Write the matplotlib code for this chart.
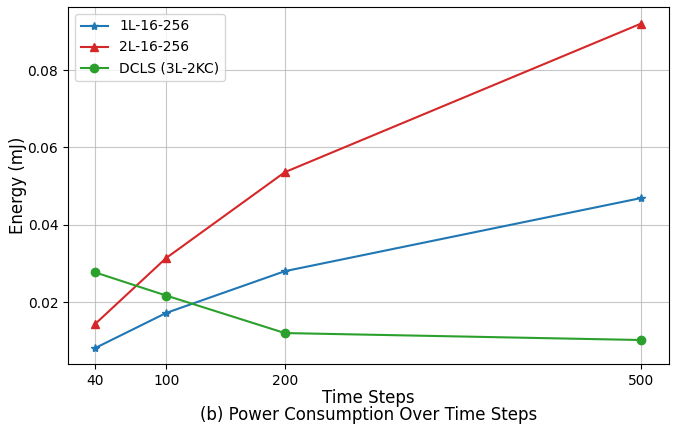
import matplotlib
matplotlib.use('Agg')
import matplotlib.pyplot as plt

# time steps on x
time_steps = [40, 100, 200, 500]

# energy (mJ) per model
energy_1l = [0.0081, 0.0172, 0.0280, 0.0469]
energy_2l = [0.0143, 0.0314, 0.0536, 0.0920]
energy_dcls = [0.0277, 0.0217, 0.0120, 0.0102]

labels = ['1L-16-256', '2L-16-256', 'DCLS (3L-2KC)']

fig = plt.figure(figsize=(6.79, 4.26), dpi=100)
ax = fig.add_axes([68 / 679, 1 - 364 / 426, 601 / 679, 357 / 426])

ax.plot(time_steps, energy_1l, marker='*', color='#1f77b4', label=labels[0])
ax.plot(time_steps, energy_2l, marker='^', color='#d62728', label=labels[1])
ax.plot(time_steps, energy_dcls, marker='o', color='#2ca02c', label=labels[2])

ax.set_xticks(time_steps)
ax.set_xlim(17.3, 523.6)
ax.set_ylim(0.0040, 0.0963)
ax.set_yticks([0.02, 0.04, 0.06, 0.08])
ax.grid(True, color='#b0b0b0', alpha=0.7)
ax.set_ylabel('Energy (mJ)', fontsize=12, labelpad=0.5)
ax.set_xlabel('Time Steps', fontsize=12, labelpad=1)
ax.legend(loc='upper left')

# caption under the axes, centred on the axes
fig.text((68 + 669) / 2 / 679, 1 - 415 / 426, '(b) Power Consumption Over Time Steps',
         ha='center', va='center', fontsize=12)

fig.savefig('out.png', dpi=100)
